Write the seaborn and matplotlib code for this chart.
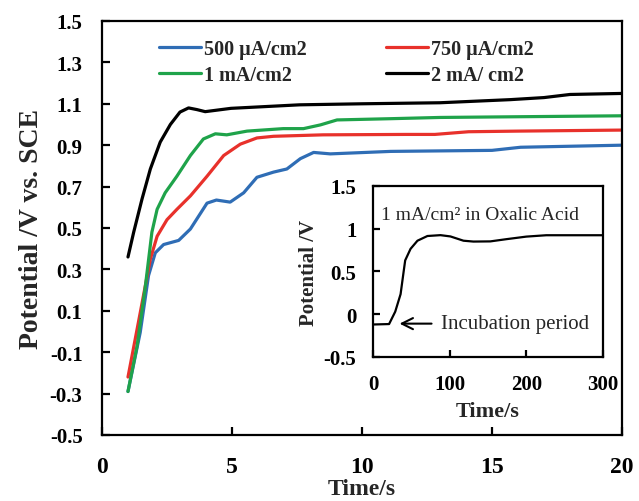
import numpy as np
import pandas as pd
import matplotlib
matplotlib.use("Agg")
import matplotlib.pyplot as plt
from matplotlib.lines import Line2D
import seaborn as sns

# series (time in s, potential in V vs SCE)
labels = ["500 µA/cm2", "750 µA/cm2", "1 mA/cm2", "2 mA/ cm2"]
colors = ["#2f6db5", "#e8312b", "#1fa34a", "#000000"]

t_500 = [1.0, 1.47, 1.79, 2.05, 2.37, 2.95, 3.4, 4.04, 4.4, 4.93, 5.45, 5.96,
         6.6, 7.11, 7.63, 8.14, 8.78, 11.1, 15.0, 16.1, 20.0]
v_500 = [-0.29, -0.005, 0.27, 0.38, 0.42, 0.44, 0.495, 0.62, 0.635, 0.625, 0.67, 0.745,
         0.77, 0.785, 0.835, 0.865, 0.858, 0.87, 0.875, 0.89, 0.90]

t_750 = [1.0, 1.47, 1.86, 2.12, 2.5, 2.88, 3.4, 4.04, 4.68, 5.32, 5.96, 6.6,
         8.5, 11.7, 12.8, 14.1, 16.0, 20.0]
v_750 = [-0.22, 0.09, 0.35, 0.46, 0.54, 0.59, 0.655, 0.75, 0.85, 0.905, 0.935, 0.943,
         0.95, 0.952, 0.952, 0.965, 0.968, 0.973]

t_1m = [1.0, 1.35, 1.67, 1.92, 2.12, 2.43, 2.88, 3.4, 3.9, 4.36, 4.8, 5.58,
        6.97, 7.75, 8.4, 9.04, 11.1, 13.0, 20.0]
v_1m = [-0.29, -0.07, 0.22, 0.48, 0.59, 0.67, 0.75, 0.85, 0.93, 0.955, 0.95, 0.968,
        0.98, 0.98, 0.998, 1.022, 1.028, 1.034, 1.042]

t_2m = [1.0, 1.22, 1.54, 1.86, 2.24, 2.63, 3.0, 3.33, 3.65, 3.97, 4.96, 7.6,
        10.0, 13.0, 15.7, 17.0, 18.0, 20.0]
v_2m = [0.36, 0.48, 0.64, 0.785, 0.915, 1.0, 1.06, 1.08, 1.072, 1.062, 1.078, 1.095,
        1.10, 1.105, 1.12, 1.13, 1.145, 1.15]

# inset: 1 mA/cm2 in oxalic acid
t_ox = [0, 21, 29, 36, 40, 42, 49, 58, 71, 88, 101, 118, 131, 153, 174, 200, 226, 300]
v_ox = [-0.12, -0.115, 0.03, 0.235, 0.5, 0.63, 0.765, 0.86, 0.915, 0.925, 0.91, 0.86,
        0.85, 0.852, 0.878, 0.908, 0.924, 0.924]

x_ticks = [0, 5, 10, 15, 20]
y_ticks = [-0.5, -0.3, -0.1, 0.1, 0.3, 0.5, 0.7, 0.9, 1.1, 1.3, 1.5]
y_ticklabels = ["-0.5", "-0.3", "-0.1", "0.1", "0.3", "0.5", "0.7", "0.9", "1.1", "1.3", "1.5"]
in_x_ticks = [0, 100, 200, 300]
in_y_ticks = [-0.5, 0, 0.5, 1, 1.5]
in_y_ticklabels = ["-0.5", "0", "0.5", "1", "1.5"]

series = [(t_500, v_500), (t_750, v_750), (t_1m, v_1m), (t_2m, v_2m)]
frames = []
for lab, (t, v) in zip(labels, series):
    frames.append(pd.DataFrame({"t": t, "v": v, "run": lab}))
df = pd.concat(frames, ignore_index=True)
df_ox = pd.DataFrame({"t": t_ox, "v": v_ox})

sns.set_theme(style="ticks")
plt.rcParams["font.family"] = ["Liberation Serif", "DejaVu Serif"]
plt.rcParams["axes.unicode_minus"] = False
plt.rcParams["axes.linewidth"] = 1.6

fig = plt.figure(figsize=(6.39, 5.02), dpi=100)
ax = fig.add_axes([0.1596, 0.1315, 0.8138, 0.8247])

palette = dict(zip(labels, colors))
sns.lineplot(data=df, x="t", y="v", hue="run", palette=palette, sort=False,
             estimator=None, linewidth=2.3, legend=False, ax=ax)
for l in ax.get_lines():
    l.set_solid_joinstyle("round")
    l.set_solid_capstyle("round")

ax.set_xlim(0, 20)
ax.set_ylim(-0.5, 1.5)
ax.set_xticks(x_ticks)
ax.set_xticklabels([str(x) for x in x_ticks])
ax.set_yticks(y_ticks)
ax.set_yticklabels(y_ticklabels)
ax.tick_params(direction="in", length=6, width=1.6, colors="black")
ax.tick_params(axis="x", labelsize=17, pad=15)
ax.tick_params(axis="y", labelsize=15, pad=14)
for lab in ax.get_xticklabels() + ax.get_yticklabels():
    lab.set_fontweight("bold")
ax.set_xlabel("Time/s", fontsize=17, fontweight="bold", labelpad=1)
ax.set_ylabel("Potential /V vs. SCE", fontsize=20, fontweight="bold", labelpad=4)
for s in ax.spines.values():
    s.set_color("black")

# legend rows: 500 / 750 on top, 1 mA / 2 mA below
order = [0, 2, 1, 3]
handles = [Line2D([0], [0], color=colors[i], lw=2.3) for i in order]
ax.legend(handles, [labels[i] for i in order], ncol=2, loc="upper left",
          bbox_to_anchor=(0.075, 1.0), frameon=False, handlelength=2.1,
          handletextpad=0.15, columnspacing=3.9, labelspacing=0.3,
          prop={"weight": "bold", "size": 14.5})

# inset
ins = fig.add_axes([0.5837, 0.2869, 0.36, 0.3406])
sns.lineplot(data=df_ox, x="t", y="v", color="black", linewidth=1.6, sort=False,
             estimator=None, ax=ins)
ins.set_xlim(0, 300)
ins.set_ylim(-0.5, 1.5)
ins.set_xticks(in_x_ticks)
ins.set_xticklabels([str(x) for x in in_x_ticks])
ins.set_yticks(in_y_ticks)
ins.set_yticklabels(in_y_ticklabels)
ins.tick_params(direction="in", length=5, width=1.6, labelsize=15, pad=12, colors="black")
for lab in ins.get_xticklabels() + ins.get_yticklabels():
    lab.set_fontweight("bold")
ins.set_xlabel("Time/s", fontsize=16, fontweight="bold", labelpad=5)
ins.set_ylabel("Potential /V", fontsize=15, fontweight="bold", labelpad=3)
for s in ins.spines.values():
    s.set_color("black")
ins.text(10, 1.17, "1 mA/cm² in Oxalic Acid", fontsize=14, va="center", ha="left")
ins.annotate("", xy=(31, -0.11), xytext=(80, -0.11),
             arrowprops=dict(arrowstyle="->", lw=1.5, color="black", mutation_scale=20))
ins.text(89, -0.11, "Incubation period", fontsize=15, va="center", ha="left")

fig.savefig("out.png", dpi=100)
